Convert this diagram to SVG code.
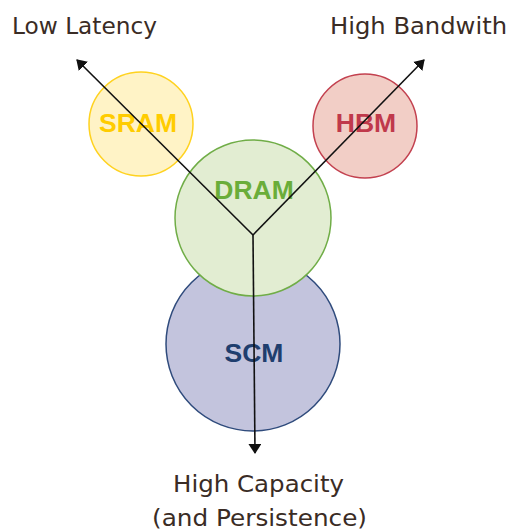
<svg xmlns="http://www.w3.org/2000/svg" width="512" height="532" viewBox="0 0 512 532">
<style>
.axis{font-family:"DejaVu Sans","Liberation Sans",sans-serif;font-size:23px;fill:#3a2c25}
.lbl{font-family:"Liberation Sans",Arial,sans-serif;font-weight:bold;font-size:26.5px;text-anchor:middle}
.conn{stroke:#111;stroke-width:1.6;fill:none;marker-end:url(#arr)}
</style>
<defs>
<marker id="arr" markerUnits="userSpaceOnUse" markerWidth="10" markerHeight="13" refX="9" refY="6.5" orient="auto">
<path d="M0,0 L10,6.5 L0,13 Z" fill="#111"/>
</marker>
</defs>
<rect width="512" height="532" fill="#fff"/>
<g id="SCM">
<circle cx="253" cy="344" r="87" fill="#c3c4dd" stroke="#2f4b7c" stroke-width="1.5"/>
<text class="lbl" x="254" y="362" fill="#1f3e6e">SCM</text>
</g>
<g id="SRAM">
<circle cx="141" cy="124" r="52" fill="#fff3c6" stroke="#ffd21f" stroke-width="1.5"/>
<text class="lbl" x="138" y="132" fill="#ffcc00">SRAM</text>
</g>
<g id="HBM">
<circle cx="365" cy="126" r="52" fill="#f2cec6" stroke="#c3414f" stroke-width="1.5"/>
<text class="lbl" x="366" y="132" fill="#c0394b">HBM</text>
</g>
<g id="DRAM">
<circle cx="253" cy="218" r="78" fill="#e2edd2" stroke="#70ad47" stroke-width="1.5"/>
<text class="lbl" x="254" y="199" fill="#6aad3a">DRAM</text>
</g>
<g id="connectors">
<line class="conn" x1="253" y1="235" x2="77" y2="60"/>
<line class="conn" x1="253" y1="235" x2="424" y2="60"/>
<line class="conn" x1="253" y1="235" x2="255" y2="453"/>
</g>
<g id="labels">
<text class="axis" x="12" y="34" textLength="145" lengthAdjust="spacingAndGlyphs">Low Latency</text>
<text class="axis" x="330" y="34" textLength="177" lengthAdjust="spacingAndGlyphs">High Bandwith</text>
<text class="axis" x="173" y="492" textLength="171" lengthAdjust="spacingAndGlyphs">High Capacity</text>
<text class="axis" x="152" y="526" textLength="215" lengthAdjust="spacingAndGlyphs">(and Persistence)</text>
</g>
</svg>
